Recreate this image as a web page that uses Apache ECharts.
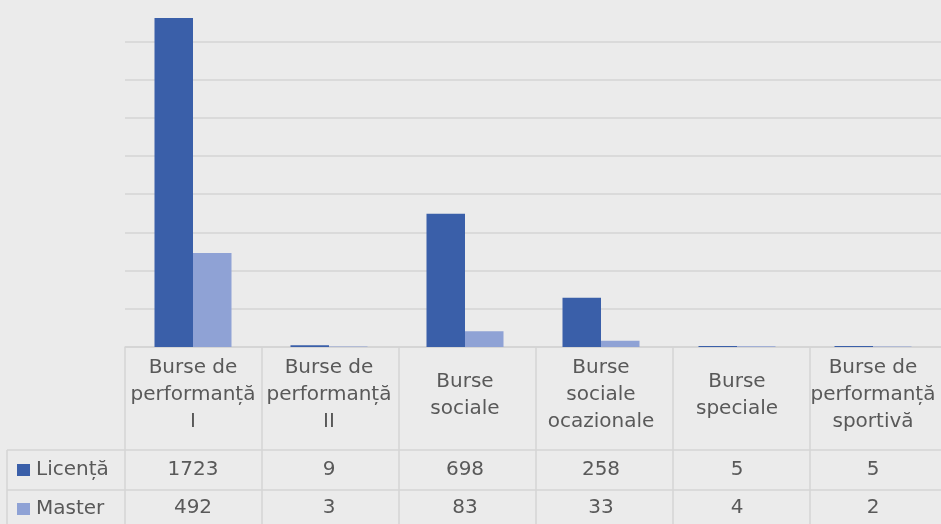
<!DOCTYPE html>
<html>
<head>
<meta charset="utf-8">
<script src="https://cdn.jsdelivr.net/npm/echarts@6/dist/echarts.min.js"></script>
<style>
    html, body { margin: 0; padding: 0; background: #ebebeb; }
    #chart { width: 941px; height: 524px; }
</style>
</head>
<body>
<div id="chart"></div>
<script>
    // data
    var categories = ['Burse de\nperformanță\nI', 'Burse de\nperformanță\nII', 'Burse\nsociale',
        'Burse\nsociale\nocazionale', 'Burse\nspeciale', 'Burse de\nperformanță\nsportivă'];
    var seriesNames = ['Licență', 'Master'];
    var licenta = [1723, 9, 698, 258, 5, 5];
    var master = [492, 3, 83, 33, 4, 2];

    var darkBlue = '#3a5fa9';
    var lightBlue = '#8fa2d5';
    var textColor = '#595959';
    var lineColor = '#d4d4d4';
    var font = 'DejaVu Sans';

    // layout of plot + table
    var left = 125, colW = 137, axisY = 347, row1 = 450, row2 = 490, bottomY = 524;
    var step = 38.2; // px per 200

    function rowAxis(values, margin) {
        return {
            type: 'category',
            gridIndex: 0,
            position: 'bottom',
            data: values.map(String),
            axisLine: {show: false},
            axisTick: {show: false},
            axisLabel: {
                interval: 0, margin: margin, verticalAlign: 'middle',
                color: textColor, fontFamily: font, fontSize: 20
            }
        };
    }

    var graphics = [];
    function line(x1, y1, x2, y2) {
        graphics.push({
            type: 'line', silent: true,
            shape: {x1: x1, y1: y1, x2: x2, y2: y2},
            style: {stroke: lineColor, lineWidth: 1.5}
        });
    }
    line(7, row1, 941, row1);
    line(7, row2, 941, row2);
    line(7, row1, 7, bottomY);
    for (var i = 0; i <= categories.length; i++) {
        line(left + i * colW, axisY, left + i * colW, bottomY);
    }
    [darkBlue, lightBlue].forEach(function (c, k) {
        var cy = k === 0 ? 470 : 509;
        graphics.push({type: 'rect', silent: true, shape: {x: 17, y: cy - 6, width: 13, height: 12}, style: {fill: c}});
        graphics.push({
            type: 'text', silent: true, x: 36, y: cy,
            style: {text: seriesNames[k], fill: textColor, font: '20px "' + font + '"', verticalAlign: 'middle'}
        });
    });

    var chart = echarts.init(document.getElementById('chart'));
    chart.setOption({
        backgroundColor: '#ebebeb',
        animation: false,
        grid: {left: left, right: 941 - (left + colW * 6), top: axisY - 9 * step, bottom: 524 - axisY, containLabel: false},
        xAxis: [
            {
                type: 'category',
                data: categories,
                axisLine: {lineStyle: {color: lineColor, width: 1.5}},
                axisTick: {show: false},
                axisLabel: {
                    interval: 0, margin: 48, verticalAlign: 'middle', lineHeight: 27,
                    color: textColor, fontFamily: font, fontSize: 20
                }
            },
            rowAxis(licenta, 123),
            rowAxis(master, 161)
        ],
        yAxis: {
            type: 'value',
            min: 0,
            max: 1800,
            interval: 200,
            axisLine: {show: false},
            axisTick: {show: false},
            axisLabel: {show: false},
            splitLine: {showMaxLine: false, lineStyle: {color: lineColor, width: 1.5}}
        },
        series: [
            {name: seriesNames[0], type: 'bar', xAxisIndex: 0, data: licenta, barWidth: 38.5, barGap: '0%', itemStyle: {color: darkBlue}},
            {name: seriesNames[1], type: 'bar', xAxisIndex: 0, data: master, barWidth: 38.5, barGap: '0%', itemStyle: {color: lightBlue}}
        ],
        graphic: graphics
    });
</script>
</body>
</html>
